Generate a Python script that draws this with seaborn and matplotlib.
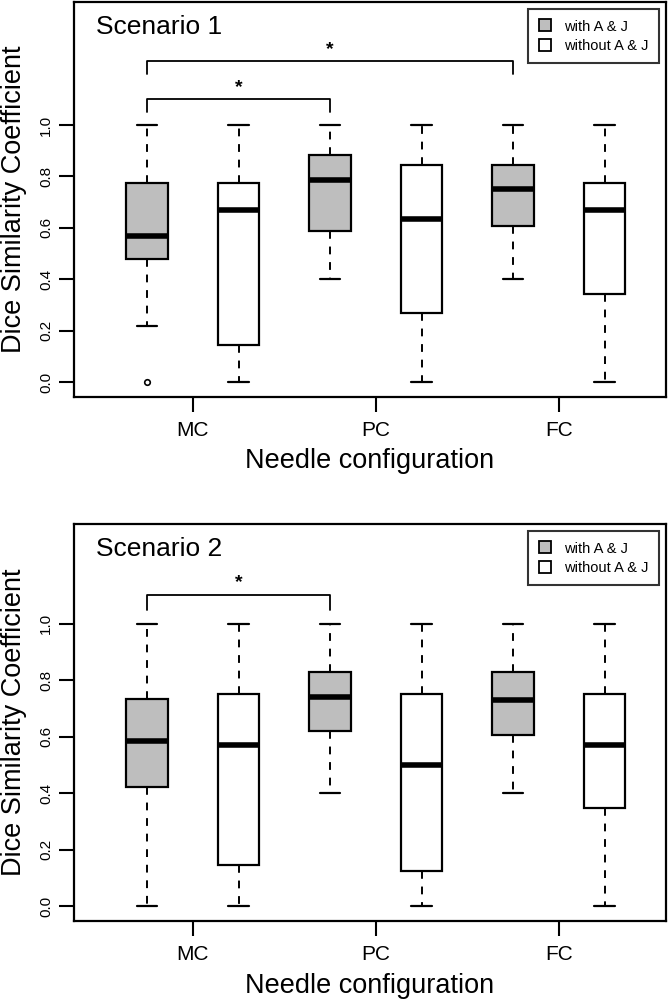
import matplotlib
matplotlib.use("Agg")
import matplotlib.pyplot as plt
from matplotlib.lines import Line2D
import seaborn as sns

sns.set_style("ticks")
plt.rcParams['font.family'] = ['Liberation Sans', 'DejaVu Sans']
plt.rcParams.update({'text.color': 'black', 'axes.labelcolor': 'black',
                     'xtick.color': 'black', 'ytick.color': 'black'})

configs = ['MC', 'PC', 'FC']
groups = ['with A & J', 'without A & J']
# box order: MC with, MC without, PC with, PC without, FC with, FC without
s1_low = [0.22, 0.0, 0.40, 0.0, 0.40, 0.0]
s1_q1 = [0.48, 0.143, 0.586, 0.269, 0.608, 0.344]
s1_med = [0.57, 0.67, 0.786, 0.634, 0.75, 0.67]
s1_q3 = [0.775, 0.775, 0.884, 0.845, 0.845, 0.775]
s1_high = [1.0, 1.0, 1.0, 1.0, 1.0, 1.0]
s1_fliers = [[0.0], [], [], [], [], []]

s2_low = [0.0, 0.0, 0.40, 0.0, 0.40, 0.0]
s2_q1 = [0.42, 0.145, 0.621, 0.125, 0.607, 0.346]
s2_med = [0.584, 0.569, 0.739, 0.499, 0.730, 0.569]
s2_q3 = [0.733, 0.751, 0.829, 0.751, 0.829, 0.751]
s2_high = [1.0, 1.0, 1.0, 1.0, 1.0, 1.0]
s2_fliers = [[], [], [], [], [], []]

# significance brackets: (box from, box to, leg bottom, bar height)
s1_brackets = [(1, 3, 1.05, 1.10), (1, 5, 1.20, 1.25)]
s2_brackets = [(1, 3, 1.05, 1.10)]

fill = ['#bebebe', 'white'] * 3

fig = plt.figure(figsize=(6.69, 10.01), dpi=100)
ax1 = fig.add_axes([0.1106, 0.6034, 0.885, 0.3946])
ax2 = fig.add_axes([0.1106, 0.0799, 0.885, 0.3966])


def draw_panel(ax, title, low, q1, med, q3, high, fliers, brackets, ylim):
    stats = []
    for i in range(6):
        stats.append(dict(whislo=low[i], q1=q1[i], med=med[i], q3=q3[i],
                          whishi=high[i], fliers=fliers[i]))
    bp = ax.bxp(stats, positions=range(1, 7), widths=0.45, patch_artist=True,
                boxprops=dict(edgecolor='black', linewidth=1.6),
                medianprops=dict(color='black', linewidth=4.0, solid_capstyle='butt'),
                whiskerprops=dict(color='black', linewidth=1.4, linestyle=(0, (4, 4))),
                capprops=dict(color='black', linewidth=1.6),
                flierprops=dict(marker='o', markersize=4, markerfacecolor='none',
                                markeredgecolor='black', markeredgewidth=1.2))
    for patch, c in zip(bp['boxes'], fill):
        patch.set_facecolor(c)

    for a, b, leg, bar in brackets:
        ax.plot([a, a, b, b], [leg, bar, bar, leg], color='black', lw=1.3)
        ax.text((a + b) / 2, bar + 0.045, '*', ha='center', va='center',
                fontsize=14, fontweight='bold')

    ax.set_xlim(0.202, 6.672)
    ax.set_ylim(*ylim)
    ax.set_xticks([1.5, 3.5, 5.5])
    ax.set_xticklabels(configs, fontsize=15)
    ax.set_yticks([0, 0.2, 0.4, 0.6, 0.8, 1.0])
    ax.set_yticklabels(['0.0', '0.2', '0.4', '0.6', '0.8', '1.0'], fontsize=11,
                       rotation=90, va='center')
    ax.tick_params(length=11, width=1.5, color='black', labelcolor='black', pad=4)
    ax.tick_params(axis='x', pad=6)
    for sp in ax.spines.values():
        sp.set_linewidth(1.6)
        sp.set_color('black')

    ax.set_xlabel('Needle configuration', fontsize=19.5, color='black')
    ax.set_ylabel('Dice Similarity Coefficient', fontsize=19.5, color='black')
    ax.xaxis.set_label_coords(0.5, -0.13)
    ax.yaxis.set_label_coords(-0.079, 0.5)

    ax.text(0.037, 0.92, title, transform=ax.transAxes, fontsize=19,
            va='baseline', ha='left', color='black')

    handles = [Line2D([], [], marker='s', linestyle='none', markersize=8,
                      markerfacecolor=c, markeredgecolor='black', markeredgewidth=1.3)
               for c in ['#bebebe', 'white']]
    leg = ax.legend(handles, groups, loc='upper right', fontsize=10.5,
                    frameon=True, fancybox=False, borderaxespad=0.5,
                    handlelength=1.0, handletextpad=0.8, labelspacing=0.35,
                    borderpad=0.7)
    leg.get_frame().set_edgecolor('black')
    leg.get_frame().set_linewidth(1.5)


draw_panel(ax1, 'Scenario 1', s1_low, s1_q1, s1_med, s1_q3, s1_high, s1_fliers,
           s1_brackets, (-0.058, 1.479))
draw_panel(ax2, 'Scenario 2', s2_low, s2_q1, s2_med, s2_q3, s2_high, s2_fliers,
           s2_brackets, (-0.053, 1.353))

fig.savefig('out.png', dpi=100)
